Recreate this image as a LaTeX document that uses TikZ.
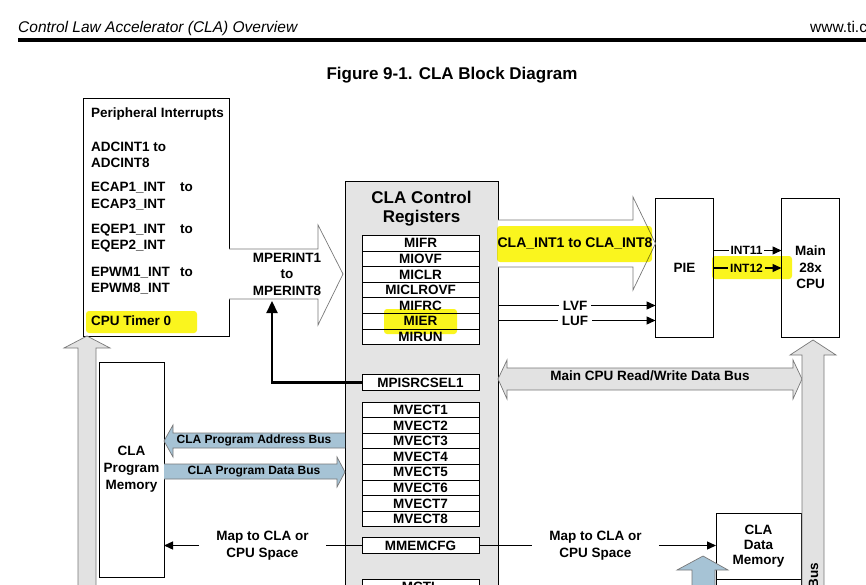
\documentclass[tikz,border=0pt]{standalone}
\usepackage{fontspec}
\setmainfont{Liberation Sans}
\usetikzlibrary{arrows.meta,positioning,calc}
\definecolor{RegGray}{RGB}{228,228,228}
\definecolor{BusGray}{RGB}{226,226,226}
\definecolor{BusEdge}{RGB}{120,120,120}
\definecolor{BusBlue}{RGB}{166,195,213}
\definecolor{MarkYellow}{RGB}{250,245,30}

\newcommand\lblfont{\fontsize{13.5}{16.5}\selectfont\bfseries}
\newcommand\busfont{\fontsize{12}{14}\selectfont\bfseries}
\newcommand\headfont{\fontsize{17}{19}\selectfont\bfseries}

\tikzset{
  box/.style={draw, line width=0.9pt, fill=white, inner sep=0pt, outer sep=0pt},
  reg/.style={box, minimum width=117pt, minimum height=15.6pt, font=\lblfont},
  fatarrow/.style={draw=BusEdge, line width=0.7pt, fill=white},
  bus/.style={draw=BusEdge, line width=0.7pt, fill=BusGray},
  bluebus/.style={draw=BusEdge, line width=0.7pt, fill=BusBlue},
  wire/.style={line width=1.3pt},
  sig/.style={wire, -{Triangle[length=9pt,width=8pt]}},
  marker/.style={fill=MarkYellow, rounded corners=3pt, blend mode=multiply},
  maplbl/.style={font=\lblfont, align=center, inner xsep=17pt, inner ysep=0pt},
}

\begin{document}
\begin{tikzpicture}[x=1pt, y=-1pt]
\useasboundingbox (0,0) rectangle (866,585);
\clip (0,0) rectangle (866,585);

% page header and title
\node[anchor=base west, font=\fontsize{15.5}{17}\selectfont\itshape, inner sep=0pt] (hdr) at (18,33) {Control Law Accelerator (CLA) Overview};
\node[anchor=base west, font=\fontsize{15.5}{17}\selectfont, inner sep=0pt] (web) at (810,33) {www.ti.c};
\draw[line width=4pt] (18,40.5) -- (866,40.5);
\node[font=\headfont] (title) at (452,75) {Figure 9-1. CLA Block Diagram};

% big boxes
\node[box, fill=RegGray, minimum width=153pt, minimum height=440pt, anchor=north west] (ctrl) at (345,181) {};
\node[font=\headfont, align=center] (ctrltitle) at (421.5,208.5) {CLA Control\\Registers};
\node[box, minimum width=146pt, minimum height=238pt, anchor=north west] (periph) at (83,98) {};
\node[box, minimum width=58pt, minimum height=139pt] (pie) at (684.5,267.5) {\lblfont PIE};
\node[box, minimum width=58pt, minimum height=139pt, align=center, font=\lblfont] (cpu) at (810.5,267.5) {Main\\28x\\CPU};
\node[box, minimum width=65pt, minimum height=215pt, align=center, font=\fontsize{13.5}{17}\selectfont\bfseries] (prog) at (131.5,469.5) {CLA\\Program\\Memory};
\node[box, minimum width=85pt, minimum height=66pt, align=center, font=\fontsize{13.5}{15}\selectfont\bfseries] (datamem) at (758.5,546) {CLA\\Data\\Memory};
\node[box, minimum width=85pt, minimum height=40pt, below=0pt of datamem] (datamem2) {};

% peripheral interrupt list
\node[anchor=west, font=\lblfont, inner sep=0pt] (pihead) at (91,114) {Peripheral Interrupts};
\node[anchor=west, font=\lblfont, inner sep=0pt, align=left] (piadc) at (91,155) {ADCINT1 to\\ADCINT8};
\node[anchor=west, font=\lblfont, inner sep=0pt, align=left] (piecap) at (91,196) {\makebox[89pt][l]{ECAP1\_INT}to\\ECAP3\_INT};
\node[anchor=west, font=\lblfont, inner sep=0pt, align=left] (pieqep) at (91,238) {\makebox[89pt][l]{EQEP1\_INT}to\\EQEP2\_INT};
\node[anchor=west, font=\lblfont, inner sep=0pt, align=left] (piepwm) at (91,280.5) {\makebox[89pt][l]{EPWM1\_INT}to\\EPWM8\_INT};
\node[anchor=west, font=\lblfont, inner sep=0pt] (pitimer) at (91,321) {CPU Timer 0};

% hollow arrows
\draw[fatarrow] (periph.east |- 0,249) -- (318,249) -- (318,225) -- (343,274) -- (318,325) -- (318,299) -- (periph.east |- 0,299);
\node[font=\lblfont, align=center] (mperint) at (287,274) {MPERINT1\\to\\MPERINT8};
\draw[fatarrow] (ctrl.east |- 0,220) -- (633,220) -- (633,197) -- (pie.west |- 0,243.5) -- (633,290) -- (633,267) -- (ctrl.east |- 0,267);
\node[font=\fontsize{14}{16}\selectfont\bfseries] (claint) at (575,243.5) {CLA\_INT1 to CLA\_INT8};

% register stacks
\node[reg] (mifr) at (420.5,243.3) {MIFR};
\node[reg, below=0pt of mifr] (miovf) {MIOVF};
\node[reg, below=0pt of miovf] (miclr) {MICLR};
\node[reg, below=0pt of miclr] (miclrovf) {MICLROVF};
\node[reg, below=0pt of miclrovf] (mifrc) {MIFRC};
\node[reg, below=0pt of mifrc] (mier) {MIER};
\node[reg, below=0pt of mier] (mirun) {MIRUN};
\node[reg, minimum height=16pt] (mpisrc) at (420.5,382.5) {MPISRCSEL1};
\foreach \i in {1,...,8}
  \node[reg] (mvect\i) at (420.5,394.2+15.6*\i) {MVECT\i};
\node[reg, minimum height=15.5pt] (mmemcfg) at (420.5,545.5) {MMEMCFG};
\node[reg] (mctl) at (420.5,586.8) {MCTL};

% interrupt lines
\node[font=\busfont, inner xsep=1.5pt, inner ysep=0pt] (int11) at (746.5,250.5) {INT11};
\node[font=\busfont, inner xsep=1.5pt, inner ysep=0pt] (int12) at (746.5,268) {INT12};
\draw[wire] (pie.east |- int11.west) -- (int11.west);
\draw[sig] (int11.east) -- (cpu.west |- int11.east);
\draw[wire] (pie.east |- int12.west) -- (int12.west);
\draw[sig] (int12.east) -- (cpu.west |- int12.east);

\node[font=\lblfont, inner xsep=4pt, inner ysep=0pt] (lvf) at (575,305.5) {LVF};
\node[font=\lblfont, inner xsep=4pt, inner ysep=0pt] (luf) at (575,320.5) {LUF};
\draw[wire] (ctrl.east |- lvf.west) -- (lvf.west);
\draw[sig] (lvf.east) -- (pie.west |- lvf.east);
\draw[wire] (ctrl.east |- luf.west) -- (luf.west);
\draw[sig] (luf.east) -- (pie.west |- luf.east);

% MPISRCSEL1 feedback
\coordinate (mpin) at (272,301);
\draw[line width=2.2pt, -{Triangle[length=12pt,width=11pt]}] (mpisrc.west) -| (mpin);

% buses
\draw[bus] (ctrl.east |- 0,379) -- (507,360) -- (507,368) -- (793,368) -- (793,360) -- (802,379) -- (793,399) -- (793,390) -- (507,390) -- (507,399) -- cycle;
\node[font=\lblfont] (rwbus) at (650,376) {Main CPU Read/Write Data Bus};
\draw[bus] (802,600) -- (802,355) -- (790,355) -- (813,340) -- (836,355) -- (824,355) -- (824,600);
\node[font=\lblfont, rotate=90, anchor=east, inner sep=0pt] (busr) at (813.5,563) {Bus};
\draw[bus] (78,600) -- (78,348) -- (64,348) -- (87,336) -- (110,348) -- (96,348) -- (96,600);

\draw[bluebus] (ctrl.west |- 0,433) -- (173,433) -- (173,425) -- (prog.east |- 0,441) -- (173,457) -- (173,448) -- (ctrl.west |- 0,448);
\node[font=\busfont] (addrbus) at (254,440.5) {CLA Program Address Bus};
\draw[bluebus] (prog.east |- 0,464) -- (337,464) -- (337,457) -- (ctrl.west |- 0,472) -- (337,487) -- (337,479) -- (prog.east |- 0,479);
\node[font=\busfont] (databus) at (254,471.5) {CLA Program Data Bus};
\draw[bluebus] (692,600) -- (692,570) -- (677,570) -- (703,556) -- (728,570) -- (715,570) -- (715,600);

% memory mapping
\node[maplbl] (mapl) at (262.5,545.5) {Map to CLA or\\CPU Space};
\node[maplbl] (mapr) at (595.5,545.5) {Map to CLA or\\CPU Space};
\draw[wire] (mmemcfg.west) -- (mapl.east |- mmemcfg.west);
\draw[sig] (mapl.west |- mmemcfg.west) -- (prog.east |- mmemcfg.west);
\draw[wire] (mmemcfg.east) -- (mapr.west |- mmemcfg.east);
\draw[sig] (mapr.east |- mmemcfg.east) -- (datamem.west |- mmemcfg.east);

% highlights
\fill[marker] (86,311) rectangle (197,333);
\fill[marker] (384,309) rectangle (457,334);
\fill[marker] (497,226) rectangle (652,262);
\fill[marker] (712,256) rectangle (792,279);
\end{tikzpicture}
\end{document}
